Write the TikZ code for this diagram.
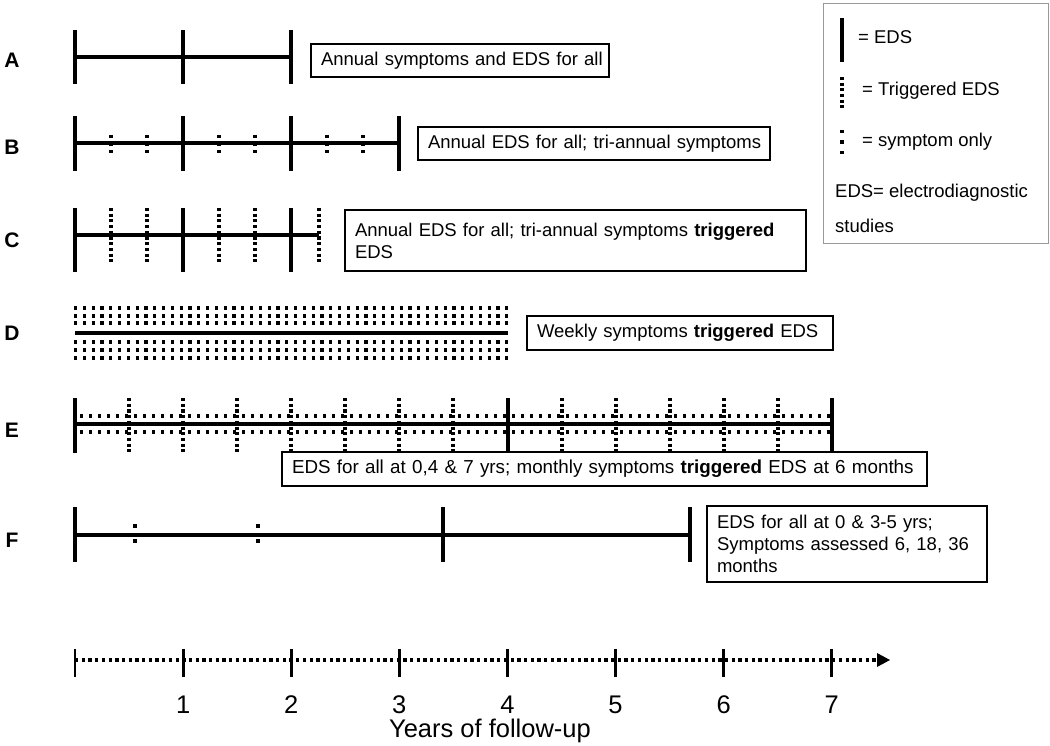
\documentclass[tikz,border=0pt]{standalone}
\usepackage{fontspec}
\setmainfont{Liberation Sans}
\usetikzlibrary{arrows.meta}
\begin{document}
\begin{tikzpicture}[x=1pt,y=-1pt,
  tl/.style={line width=3.6pt},
  trig/.style={line width=3.1pt, dash pattern=on 3.1pt off 2.6pt},
  symp/.style={line width=3.1pt, dash pattern=on 3.1pt off 4.4pt},
  hdots/.style={line width=3.1pt, dash pattern=on 3.1pt off 5.7pt},
  box/.style={draw, line width=1.1pt, inner xsep=10pt, inner ysep=0pt, outer sep=0pt,
    anchor=north west, align=left, font=\fontsize{18.5}{22}\selectfont},
  lbl/.style={font=\fontsize{21}{22}\selectfont\bfseries},
  leg/.style={anchor=west, inner sep=0pt, font=\fontsize{18.5}{22}\selectfont},
  axnum/.style={anchor=base, inner sep=0pt, font=\fontsize{25.5}{28}\selectfont}]
\useasboundingbox (0,0) rectangle (1050,746);

% labels
\node[lbl] (lA) at (12,60) {A};
\node[lbl] (lB) at (12,147) {B};
\node[lbl] (lC) at (12,240) {C};
\node[lbl] (lD) at (12,333) {D};
\node[lbl] (lE) at (12,430) {E};
\node[lbl] (lF) at (12,540) {F};

% Row A
\draw[tl] (75,57) -- (291,57);
\foreach \x in {75,183,291} \draw[tl] (\x,30) -- (\x,84);
\node[box, text width=278pt, minimum height=33pt] (bA) at (311,44) {\mbox{Annual symptoms and EDS for all}};

% Row B
\draw[tl] (75,143) -- (399,143);
\foreach \x in {75,183,291,399} \draw[tl] (\x,116) -- (\x,171);
\foreach \x in {111,147,219,255,327,363} \draw[symp] (\x,135) -- (\x,154);
\node[box, text width=332pt, minimum height=33pt] (bB) at (418,127) {\mbox{Annual EDS for all; tri-annual symptoms}};

% Row C
\draw[tl] (75,235) -- (319,235);
\foreach \x in {75,183,291} \draw[tl] (\x,208) -- (\x,272);
\foreach \x in {111,147,219,255,319} \draw[trig] (\x,208) -- (\x,263);
\node[box, text width=441pt, minimum height=61pt] (bC) at (345,210) {\mbox{Annual EDS for all; tri-annual symptoms \textbf{triggered}}\\EDS};

% Row D
\foreach \y in {308,316,323,342,350,358} \draw[hdots] (74,\y) -- (510,\y);
\draw[tl] (75,333) -- (508,333);
\node[box, text width=286pt, minimum height=34pt] (bD) at (527,316) {\mbox{Weekly symptoms \textbf{triggered} EDS}};

% Row E
\foreach \y in {416,432} \draw[hdots, dash pattern=on 3.1pt off 5.9pt] (80,\y) -- (830,\y);
\draw[tl] (75,424) -- (832,424);
\foreach \x in {75,508,832} \draw[tl] (\x,398) -- (\x,453);
\foreach \x in {129,183,237,291,345,399,453,562,616,670,724,778} \draw[trig] (\x,398) -- (\x,455);
\node[box, text width=625pt, minimum height=34pt, font=\fontsize{18.8}{22}\selectfont] (bE) at (282,452) {\mbox{EDS for all at 0,4 \& 7 yrs; monthly symptoms \textbf{triggered} EDS at 6 months}};

% Row F
\draw[tl] (75,535) -- (690,535);
\foreach \x in {75,443,690} \draw[tl] (\x,507) -- (\x,562);
\foreach \x in {135,258} {\fill (\x-1.6,526-1.6) rectangle +(3.2,3.2); \fill (\x-1.6,541-1.6) rectangle +(3.2,3.2);}
\node[box, text width=260pt, minimum height=76pt] (bF) at (707,506) {\mbox{EDS for all at 0 \& 3-5 yrs;}\\\mbox{Symptoms assessed 6, 18, 36}\\months};

% Legend
\node[draw=gray!80, line width=1pt, anchor=north west, minimum width=225pt, minimum height=240pt, inner sep=0pt] (leg) at (823,3) {};
\draw[line width=3.6pt] (842,18) -- (842,62);
\node[leg] (t1) at (858,37) {= EDS};
\draw[trig] (842,77) -- (842,108);
\node[leg] (t2) at (862,91) {= Triggered EDS};
\draw[line width=3.1pt, dash pattern=on 3.1pt off 7.4pt] (842,130) -- (842,154);
\node[leg] (t3) at (862,142) {= symptom only};
\node[leg] (t4) at (835,193) {EDS= electrodiagnostic};
\node[leg] (t5) at (835,226) {studies};

% Axis
\coordinate (ax0) at (75,660);
\coordinate (axe) at (890,660);
\draw[line width=3.3pt, dash pattern=on 3.3pt off 3.4pt] (ax0) -- (879,660);
\fill (877,653) -- (890,660) -- (877,667) -- cycle;
\foreach \i in {0,...,7} \draw[line width=2.8pt] (75+108.1*\i,649) -- (75+108.1*\i,677);
\foreach \i in {1,...,7} \node[axnum] (n\i) at (75+108.1*\i,713) {\i};
\node[axnum] (axt) at (490,737) {Years of follow-up};
\end{tikzpicture}
\end{document}
